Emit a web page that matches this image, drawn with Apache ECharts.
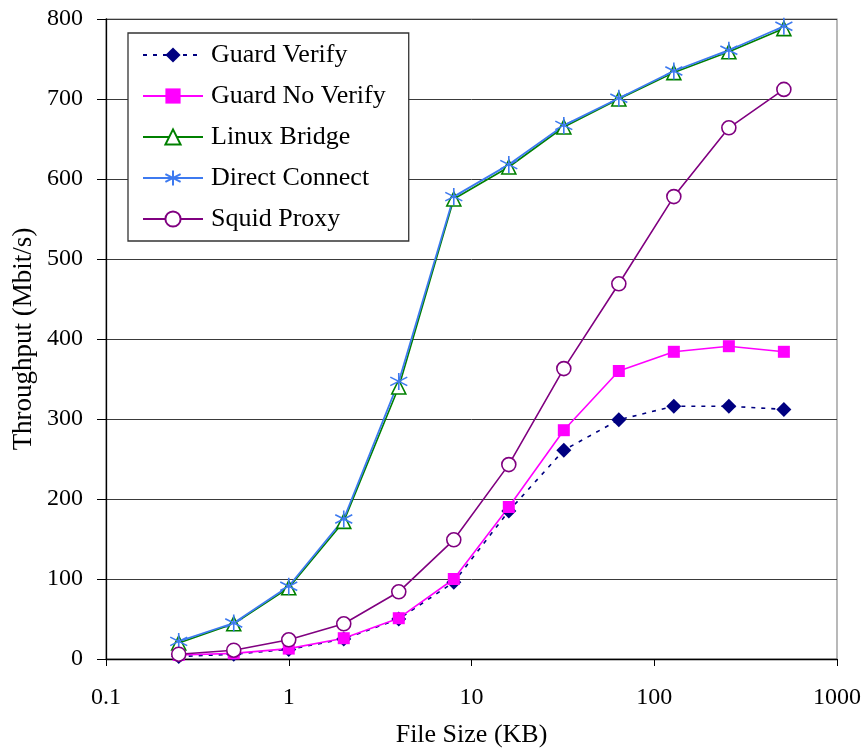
<!DOCTYPE html>
<html><head><meta charset="utf-8">
<script src="https://cdn.jsdelivr.net/npm/echarts@6/dist/echarts.min.js"></script>
<style>html,body{margin:0;padding:0;background:#fff}#c{width:866px;height:749px}</style>
</head><body><div id="c"></div>
<script>
const fileSizes = [0.25, 0.5, 1, 2, 4, 8, 16, 32, 64, 128, 256, 512];
const guardVerify   = [3, 6, 12, 25, 50, 96, 185, 261, 299, 316, 316, 312];
const guardNoVerify = [5, 7, 13, 26, 51, 100, 190, 286, 360, 384, 391, 384];
const linuxBridge   = [20, 44, 89, 172, 340, 575, 615, 665, 700, 733, 759, 788];
const directConnect = [22, 45, 91, 175, 347, 578, 618, 667, 701, 735, 761, 791];
const squidProxy    = [6, 11, 24, 44, 84, 149, 243, 363, 469, 578, 664, 712];
const yTicks = [0, 100, 200, 300, 400, 500, 600, 700, 800];

const pair = arr => fileSizes.map((x, i) => [x, arr[i]]);
const FONT = '"Liberation Serif", "DejaVu Serif", serif';
const asterisk = 'path://M0,-10L0,10M-8.66,-5L8.66,5M-8.66,5L8.66,-5';
const BLUE = '#3D7AF0';

const chart = echarts.init(document.getElementById('c'));
chart.setOption({
  animation: false,
  backgroundColor: '#fff',
  grid: { left: 106, right: 29, top: 19, bottom: 90, containLabel: false, outerBoundsMode: 'none',
    show: true, borderColor: '#8a8a8a', borderWidth: 1.2, backgroundColor: 'transparent' },
  legend: {
    orient: 'vertical', left: 128, top: 33,
    padding: [9, 23, 9, 14],
    itemGap: 15, itemWidth: 60, itemHeight: 19,
    backgroundColor: '#fff', borderColor: '#333', borderWidth: 1.3,
    textStyle: { fontFamily: FONT, fontSize: 26, color: '#000', padding: [0, 0, 0, 3] },
    data: ['Guard Verify', 'Guard No Verify', 'Linux Bridge', 'Direct Connect', 'Squid Proxy']
  },
  xAxis: {
    type: 'log', logBase: 10, min: 0.1, max: 1000,
    name: 'File Size (KB)', nameLocation: 'middle', nameGap: 63, nameMoveOverlap: false,
    nameTextStyle: { fontFamily: FONT, fontSize: 26, color: '#000' },
    axisLine: { lineStyle: { color: '#000', width: 1.3 } },
    axisTick: { show: true, length: 7, lineStyle: { color: '#000' } },
    minorTick: { show: false },
    splitLine: { show: false },
    axisLabel: { fontFamily: FONT, fontSize: 24, color: '#000', margin: 27,
      formatter: v => String(+v.toPrecision(3)) }
  },
  yAxis: {
    type: 'value', min: yTicks[0], max: yTicks[yTicks.length - 1], interval: 100,
    name: 'Throughput (Mbit/s)', nameLocation: 'middle', nameGap: 69, nameMoveOverlap: false,
    nameTextStyle: { fontFamily: FONT, fontSize: 27, color: '#000' },
    axisLine: { show: true, lineStyle: { color: '#000', width: 1.3 } },
    axisTick: { show: true, length: 9, lineStyle: { color: '#000' } },
    splitLine: { show: true, lineStyle: { color: '#3a3a3a', width: 1 } },
    axisLabel: { fontFamily: FONT, fontSize: 24, color: '#000', margin: 23 }
  },
  series: [
    { name: 'Guard Verify', type: 'line', data: pair(guardVerify),
      symbol: 'diamond', symbolSize: 15, color: '#000080',
      lineStyle: { color: '#000080', width: 1.6, type: [4, 6] },
      itemStyle: { color: '#000080' } },
    { name: 'Guard No Verify', type: 'line', data: pair(guardNoVerify),
      symbol: 'rect', symbolSize: 12, color: '#FF00FF',
      lineStyle: { color: '#FF00FF', width: 1.6 },
      itemStyle: { color: '#FF00FF' } },
    { name: 'Linux Bridge', type: 'line', data: pair(linuxBridge),
      symbol: 'triangle', symbolSize: 14, color: '#008000',
      lineStyle: { color: '#008000', width: 1.6 },
      itemStyle: { color: '#fff', borderColor: '#008000', borderWidth: 1.6 } },
    { name: 'Direct Connect', type: 'line', data: pair(directConnect),
      symbol: asterisk, symbolSize: 17, color: BLUE,
      lineStyle: { color: BLUE, width: 1.8 },
      itemStyle: { color: 'transparent', borderColor: BLUE, borderWidth: 1.6 } },
    { name: 'Squid Proxy', type: 'line', data: pair(squidProxy),
      symbol: 'circle', symbolSize: 14, color: '#800080',
      lineStyle: { color: '#800080', width: 1.6 },
      itemStyle: { color: '#fff', borderColor: '#800080', borderWidth: 1.6 } }
  ]
});
</script></body></html>
